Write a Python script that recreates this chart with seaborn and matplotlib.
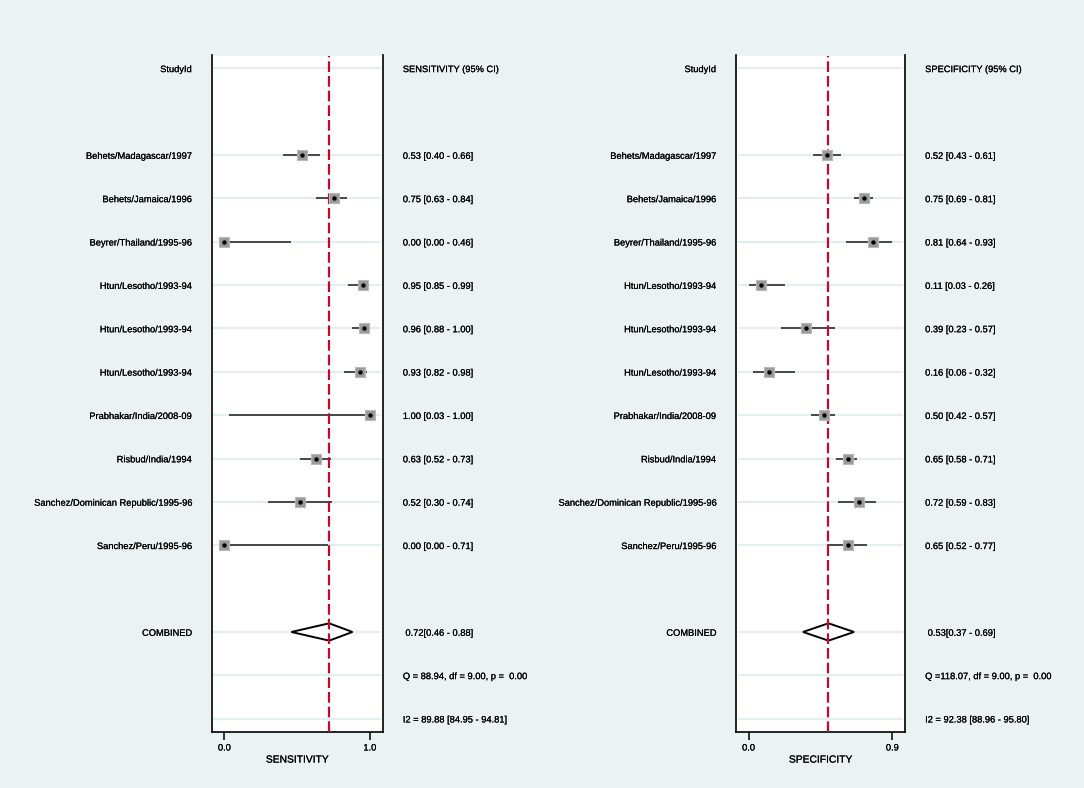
import numpy as np
import pandas as pd
import seaborn as sns
import matplotlib.pyplot as plt
import matplotlib.patheffects as pe
from matplotlib.patches import Polygon

# study labels (same for both panels)
studies = ["Behets/Madagascar/1997", "Behets/Jamaica/1996", "Beyrer/Thailand/1995-96",
           "Htun/Lesotho/1993-94", "Htun/Lesotho/1993-94", "Htun/Lesotho/1993-94",
           "Prabhakar/India/2008-09", "Risbud/India/1994",
           "Sanchez/Dominican Republic/1995-96", "Sanchez/Peru/1995-96"]

# sensitivity with 95% CI
sens = [0.53, 0.75, 0.00, 0.95, 0.96, 0.93, 1.00, 0.63, 0.52, 0.00]
sens_lo = [0.40, 0.63, 0.00, 0.85, 0.88, 0.82, 0.03, 0.52, 0.30, 0.00]
sens_hi = [0.66, 0.84, 0.46, 0.99, 1.00, 0.98, 1.00, 0.73, 0.74, 0.71]
sens_pooled = [0.72, 0.46, 0.88]
sens_q = "Q = 88.94, df = 9.00, p =  0.00"
sens_i2 = "I2 = 89.88 [84.95 - 94.81]"

# specificity with 95% CI
spec = [0.52, 0.75, 0.81, 0.11, 0.39, 0.16, 0.50, 0.65, 0.72, 0.65]
spec_lo = [0.43, 0.69, 0.64, 0.03, 0.23, 0.06, 0.42, 0.58, 0.59, 0.52]
spec_hi = [0.61, 0.81, 0.93, 0.26, 0.57, 0.32, 0.57, 0.71, 0.83, 0.77]
spec_pooled = [0.53, 0.37, 0.69]
spec_q = "Q =118.07, df = 9.00, p =  0.00"
spec_i2 = "I2 = 92.38 [88.96 - 95.80]"

BG = "#eaf2f3"
GRID = "#e4edf0"
RED = "#c40a2c"
FS = 6.7

sns.set_theme(style="white")
plt.rcParams["font.family"] = ["Liberation Sans", "DejaVu Sans"]
plt.rcParams["text.color"] = "black"
plt.rcParams["xtick.color"] = "black"
plt.rcParams["axes.labelcolor"] = "black"

# slight stroke so the small text reads as heavy as the Stata export
HEAVY = [pe.withStroke(linewidth=0.12, foreground="black")]

W, H = 1084, 788
fig = plt.figure(figsize=(W / 100, H / 100), dpi=100, facecolor=BG)


def px_axes(x0, x1, y0, y1):
    """ axes from pixel box (y measured from top) """
    return fig.add_axes([x0 / W, 1 - y1 / H, (x1 - x0) / W, (y1 - y0) / H])


def forest_panel(ax, est, lo, hi, pooled, q_text, i2_text, measure):
    rows = np.arange(len(est)) + 2
    row_comb = rows[-1] + 2
    df = pd.DataFrame({"study": studies, "est": est, "lo": lo, "hi": hi, "row": rows})

    # light row guides
    for r in [0, *rows, row_comb, row_comb + 1, row_comb + 2]:
        ax.axhline(r, xmin=0.015, xmax=0.985, color=GRID, lw=1.6, zorder=0)

    ax.hlines(df["row"], df["lo"], df["hi"], color="#1a1a1a", lw=1.1, zorder=2)

    # pooled diamond
    p_est, p_lo, p_hi = pooled
    diamond = Polygon([(p_lo, row_comb), (p_est, row_comb - 0.2), (p_hi, row_comb),
                       (p_est, row_comb + 0.2)], closed=True, facecolor="white",
                      edgecolor="black", lw=1.4, zorder=2.5)
    ax.add_patch(diamond)

    ax.axvline(p_est, color=RED, lw=1.6, ls=(0, (4.8, 1.8)), zorder=3)

    sns.scatterplot(data=df, x="est", y="row", marker="s", s=44, color="#9a9a9a",
                    edgecolor="#b8b8b8", linewidth=0.8, ax=ax, zorder=4)
    sns.scatterplot(data=df, x="est", y="row", marker="o", s=10, color="black",
                    linewidth=0, ax=ax, zorder=5)

    # axis range like Stata: ticks at the data extremes, ~9% padding
    xmin = min(min(lo), p_lo)
    xmax = max(max(hi), p_hi)
    pad = 0.088 * (xmax - xmin)
    ax.set_xlim(xmin - pad, xmax + pad)
    ax.set_ylim(row_comb + 2.3, -0.295)
    ax.set_xticks([xmin, xmax])
    ax.set_xticklabels(["{:.1f}".format(xmin), "{:.1f}".format(xmax)], fontsize=FS)
    for t in ax.get_xticklabels():
        t.set_path_effects(HEAVY)
    ax.set_yticks([])
    ax.set_xlabel(measure, fontsize=7.4, labelpad=1.5, path_effects=HEAVY)
    ax.set_ylabel("")
    ax.tick_params(axis="x", bottom=True, direction="out", length=5.5, width=1.1,
                   color="black", pad=3)

    ax.set_facecolor("white")
    ax.spines["top"].set_visible(False)
    for s in ["left", "right", "bottom"]:
        ax.spines[s].set_color("black")
        ax.spines[s].set_linewidth(1.2)

    # label column and value column
    left_txt = ["StudyId"] + studies + ["COMBINED"]
    left_rows = [0, *rows, row_comb]
    for txt, r in zip(left_txt, left_rows):
        ax.annotate(txt, xy=(0, r + 0.03), xycoords=("axes fraction", "data"), xytext=(-14.5, 0),
                    textcoords="offset points", ha="right", va="center", fontsize=FS,
                    path_effects=HEAVY)

    right_txt = ["{} (95% CI)".format(measure)]
    right_txt += ["{:.2f} [{:.2f} - {:.2f}]".format(e, l, h) for e, l, h in zip(est, lo, hi)]
    right_txt += [" {:.2f}[{:.2f} - {:.2f}]".format(p_est, p_lo, p_hi), q_text, i2_text]
    right_rows = [0, *rows, row_comb, row_comb + 1, row_comb + 2]
    for txt, r in zip(right_txt, right_rows):
        ax.annotate(txt, xy=(1, r + 0.03), xycoords=("axes fraction", "data"), xytext=(14.5, 0),
                    textcoords="offset points", ha="left", va="center", fontsize=FS,
                    path_effects=HEAVY)


ax1 = px_axes(211.7, 382.7, 55.5, 731.7)
forest_panel(ax1, sens, sens_lo, sens_hi, sens_pooled, sens_q, sens_i2, "SENSITIVITY")

ax2 = px_axes(736, 905, 55.5, 731.7)
forest_panel(ax2, spec, spec_lo, spec_hi, spec_pooled, spec_q, spec_i2, "SPECIFICITY")

fig.savefig("out.png", dpi=100, facecolor=BG)
